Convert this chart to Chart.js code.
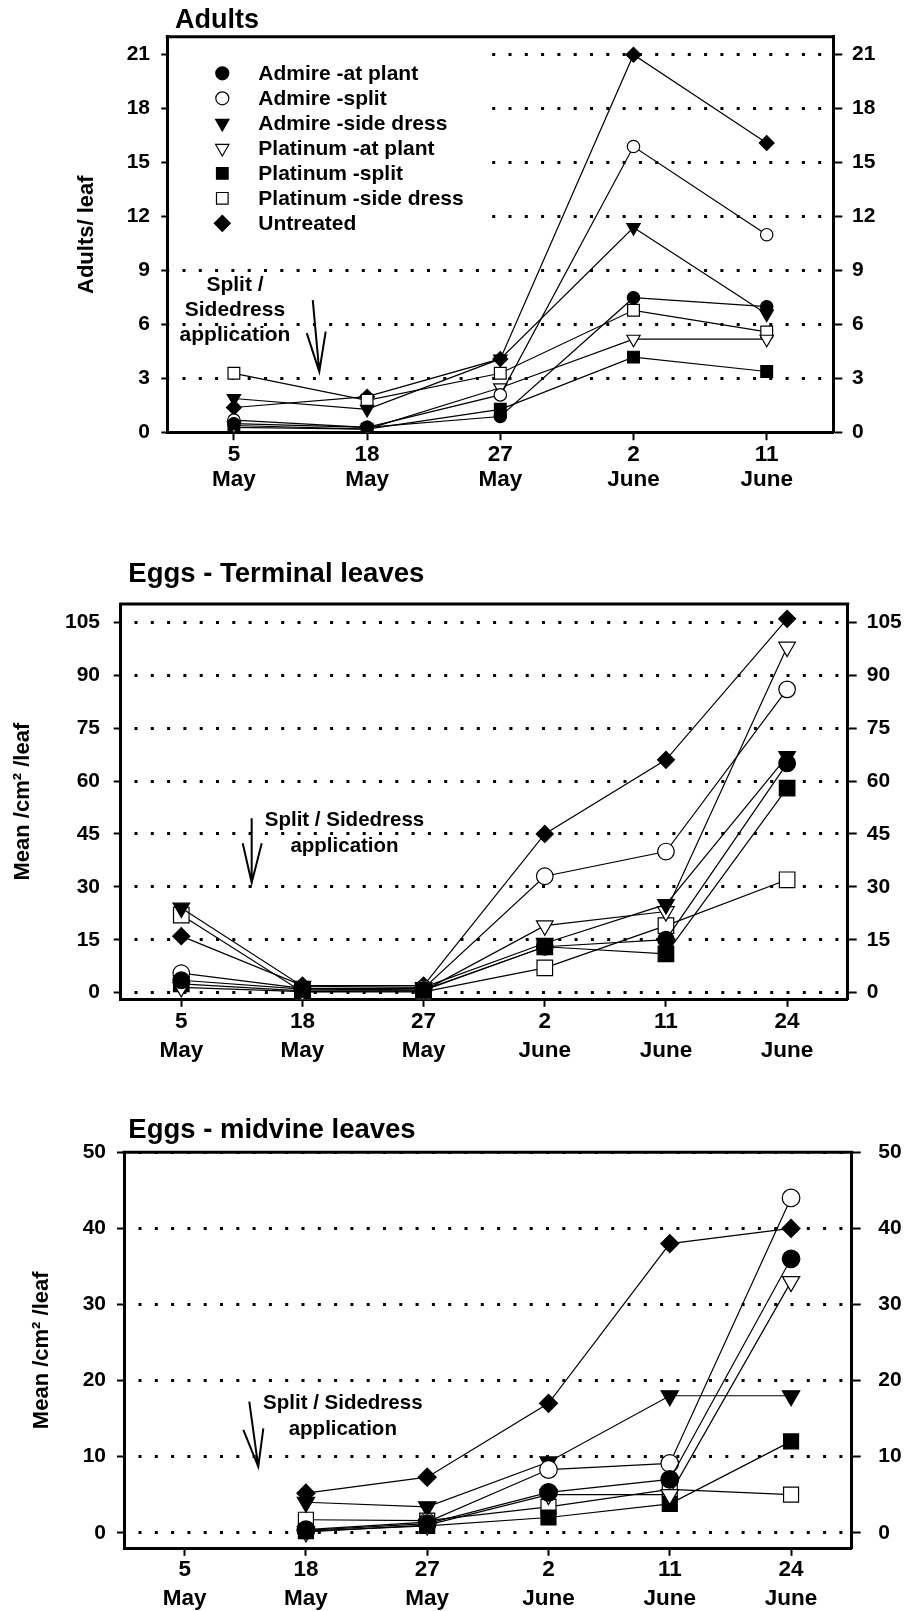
<!DOCTYPE html>
<html>
<head>
<meta charset="utf-8">
<script src="https://cdn.jsdelivr.net/npm/chart.js@4.4.1/dist/chart.umd.min.js"></script>
<style>
    html, body { margin: 0; padding: 0; background: #fff; }
    .page { position: relative; width: 910px; height: 1611px; }
    canvas { position: absolute; left: 0; }
</style>
</head>
<body>
<div class="page">
    <canvas id="adultsChart" width="910" height="500" style="top:0px"></canvas>
    <canvas id="terminalChart" width="910" height="530" style="top:540px"></canvas>
    <canvas id="midvineChart" width="910" height="521" style="top:1090px"></canvas>
</div>
<script>
// ─── Data ───
const seriesNames = [
    'Admire -at plant', 'Admire -split', 'Admire -side dress',
    'Platinum -at plant', 'Platinum -split', 'Platinum -side dress', 'Untreated'
];

const adultDates = [['5', 'May'], ['18', 'May'], ['27', 'May'], ['2', 'June'], ['11', 'June']];
const eggDates = [['5', 'May'], ['18', 'May'], ['27', 'May'], ['2', 'June'], ['11', 'June'], ['24', 'June']];

const adultTicks = [0, 3, 6, 9, 12, 15, 18, 21];
const terminalTicks = [0, 15, 30, 45, 60, 75, 90, 105];
const midvineTicks = [0, 10, 20, 30, 40, 50];

// Adults / leaf
const adultsAdmireAtPlant = [0.5, 0.3, 0.9, 7.5, 7.0];
const adultsAdmireSplit = [0.7, 0.3, 2.1, 15.9, 11.0];
const adultsAdmireSideDress = [1.9, 1.3, 4.1, 11.4, 6.6];
const adultsPlatinumAtPlant = [0.4, 0.2, 2.5, 5.2, 5.2];
const adultsPlatinumSplit = [0.3, 0.2, 1.3, 4.2, 3.4];
const adultsPlatinumSideDress = [3.3, 1.8, 3.3, 6.8, 5.6];
const adultsUntreated = [1.4, 2.0, 4.1, 21.0, 16.1];

// Eggs - terminal leaves
const termAdmireAtPlant = [3.5, 1.0, 0.8, 13, 15, 65];
const termAdmireSplit = [5.5, 1.2, 1.2, 33, 40, 86];
const termAdmireSideDress = [24, 1.8, 1.5, 14, 25, 67];
const termPlatinumAtPlant = [1.5, 0.3, 0.5, 19, 23, 98];
const termPlatinumSplit = [2.5, 0.5, 0.6, 13, 11, 58];
const termPlatinumSideDress = [22, 0.2, 0.2, 7, 19, 32];
const termUntreated = [16, 2.0, 2.0, 45, 66, 106];

// Eggs - midvine leaves
const midAdmireAtPlant = [null, 0.3, 1.2, 5.3, 7.0, 36];
const midAdmireSplit = [null, 0.4, 1.4, 8.3, 9.1, 44];
const midAdmireSideDress = [null, 4.0, 3.4, 9.3, 18, 18];
const midPlatinumAtPlant = [null, 0.1, 1.0, 5.0, 5.0, 33];
const midPlatinumSplit = [null, 0.2, 0.9, 2.0, 3.8, 12];
const midPlatinumSideDress = [null, 1.7, 1.6, 3.4, 5.7, 5.0];
const midUntreated = [null, 5.2, 7.3, 17, 38, 40];

// ─── Styles ───
const FONT = "'Liberation Sans', Arial, Helvetica, sans-serif";
const markers = [
    { style: 'circle', rotation: 0, fill: '#000' },
    { style: 'circle', rotation: 0, fill: '#fff' },
    { style: 'triangle', rotation: 180, fill: '#000' },
    { style: 'triangle', rotation: 180, fill: '#fff' },
    { style: 'rect', rotation: 0, fill: '#000' },
    { style: 'rect', rotation: 0, fill: '#fff' },
    { style: 'rectRot', rotation: 0, fill: '#000' }
];

function drawMarker(ctx, m, r, x, y) {
    ctx.beginPath();
    if (m.style === 'circle') {
        ctx.arc(x, y, r, 0, Math.PI * 2);
    } else if (m.style === 'triangle') {
        const s = m.rotation ? -1 : 1;
        ctx.moveTo(x, y - s * r);
        ctx.lineTo(x + r * Math.sqrt(3) / 2, y + s * r / 2);
        ctx.lineTo(x - r * Math.sqrt(3) / 2, y + s * r / 2);
        ctx.closePath();
    } else if (m.style === 'rect') {
        const h = r * Math.SQRT1_2;
        ctx.rect(x - h, y - h, 2 * h, 2 * h);
    } else {
        ctx.moveTo(x - r, y);
        ctx.lineTo(x, y - r);
        ctx.lineTo(x + r, y);
        ctx.lineTo(x, y + r);
        ctx.closePath();
    }
    ctx.fillStyle = m.fill;
    ctx.fill();
    ctx.lineWidth = 1.2;
    ctx.strokeStyle = '#000';
    ctx.stroke();
}

// ─── Frame, titles, notes, legend ───
const notesPlugin = {
    id: 'notes',
    beforeDatasetsDraw(chart, args, opts) {
        const L = opts.legend;
        if (!L) return;
        const { ctx, chartArea: a } = chart;
        ctx.save();
        ctx.fillStyle = '#fff';
        ctx.fillRect(a.left + 2, a.top + 2, L.boxW, L.boxH);
        chart.data.datasets.forEach((ds, i) => {
            const y = a.top + L.top + i * L.step;
            drawMarker(ctx, markers[i], L.radii[i], a.left + L.markerX, y);
            ctx.fillStyle = '#000';
            ctx.font = `bold ${L.size}px ${FONT}`;
            ctx.textAlign = 'left';
            ctx.textBaseline = 'middle';
            ctx.fillText(ds.label, a.left + L.textX, y + 0.5);
        });
        ctx.restore();
    },
    afterDraw(chart, args, opts) {
        const { ctx, chartArea: a, scales } = chart;
        const px = v => scales.x.getPixelForValue(v);
        const py = v => scales.y.getPixelForValue(v);
        ctx.save();
        ctx.strokeStyle = '#000';
        ctx.lineWidth = 3;
        ctx.beginPath();
        ctx.moveTo(a.left - 1.5, a.top);
        ctx.lineTo(a.right + 1.5, a.top);
        ctx.stroke();

        ctx.fillStyle = '#000';
        ctx.font = `bold ${opts.titleSize}px ${FONT}`;
        ctx.textAlign = 'left';
        ctx.textBaseline = 'alphabetic';
        ctx.fillText(opts.title, a.left + opts.titleDx, a.top + opts.titleDy);

        const n = opts.note;
        ctx.font = `bold ${n.size}px ${FONT}`;
        ctx.textAlign = 'center';
        ctx.textBaseline = 'middle';
        n.lines.forEach((t, i) => ctx.fillText(t, px(n.x), py(n.y[i])));

        const w = opts.arrow;
        ctx.lineWidth = 2;
        ctx.beginPath();
        ctx.moveTo(px(w.from[0]), py(w.from[1]));
        ctx.lineTo(px(w.tip[0]), py(w.tip[1]));
        ctx.moveTo(px(w.left[0]), py(w.left[1]));
        ctx.lineTo(px(w.tip[0]), py(w.tip[1]));
        ctx.lineTo(px(w.right[0]), py(w.right[1]));
        ctx.stroke();
        ctx.restore();
    }
};

function buildChart(id, spec) {
    const ctx = document.getElementById(id).getContext('2d');
    const tickFont = { family: FONT, size: 21, weight: 'bold' };
    const setTicks = s => { s.ticks = spec.ticks.map(v => ({ value: v })); };
    return new Chart(ctx, {
        type: 'line',
        data: {
            labels: spec.labels,
            datasets: spec.series.map((values, i) => ({
                label: seriesNames[i],
                data: values,
                borderColor: '#000',
                borderWidth: 1.2,
                pointStyle: markers[i].style,
                pointRotation: markers[i].rotation,
                pointRadius: spec.radii[i],
                pointBackgroundColor: markers[i].fill,
                pointBorderColor: '#000',
                pointBorderWidth: 1.2,
                fill: false,
                tension: 0
            }))
        },
        plugins: [notesPlugin],
        options: {
            responsive: false,
            animation: false,
            devicePixelRatio: 1,
            events: [],
            layout: { padding: { top: spec.area.top, left: 0, right: 0, bottom: 0 } },
            scales: {
                x: {
                    type: 'category',
                    offset: true,
                    afterFit: s => { s.height = spec.canvasH - spec.area.bottom; },
                    grid: { drawOnChartArea: false, tickLength: 7.5, tickWidth: 2, tickColor: '#000', color: '#000' },
                    border: { color: '#000', width: 3 },
                    ticks: {
                        color: '#000', autoSkip: false, maxRotation: 0, minRotation: 0,
                        padding: spec.xPad,
                        font: { family: FONT, size: 22.5, weight: 'bold', lineHeight: spec.xLineH }
                    }
                },
                y: {
                    position: 'left',
                    min: spec.min,
                    max: spec.max,
                    afterBuildTicks: setTicks,
                    afterFit: s => { s.width = spec.area.left; },
                    grid: { color: '#000', lineWidth: 3, tickLength: spec.leftTick, tickWidth: 2, tickColor: '#000' },
                    border: { color: '#000', width: 3, dash: [3, 13.3], dashOffset: spec.dotOffset },
                    ticks: { color: '#000', padding: spec.leftPad, font: tickFont },
                    title: {
                        display: true, text: spec.yTitle, color: '#000',
                        font: { family: FONT, size: 22, weight: 'bold' },
                        padding: { top: spec.yTitlePad, bottom: 0 }
                    }
                },
                y2: {
                    position: 'right',
                    min: spec.min,
                    max: spec.max,
                    afterBuildTicks: setTicks,
                    afterFit: s => { s.width = 910 - spec.area.right; },
                    grid: { drawOnChartArea: false, tickLength: 9, tickWidth: 2, tickColor: '#000', color: '#000' },
                    border: { color: '#000', width: 3 },
                    ticks: { color: '#000', padding: spec.rightPad, font: tickFont }
                }
            },
            plugins: {
                legend: { display: false },
                tooltip: { enabled: false },
                notes: spec.notes
            }
        }
    });
}

// ─── Adults ───
buildChart('adultsChart', {
    labels: adultDates,
    series: [adultsAdmireAtPlant, adultsAdmireSplit, adultsAdmireSideDress,
        adultsPlatinumAtPlant, adultsPlatinumSplit, adultsPlatinumSideDress, adultsUntreated],
    ticks: adultTicks,
    min: 0, max: 22,
    canvasH: 500,
    area: { left: 167.3, right: 833.3, top: 36.7, bottom: 432.7 },
    radii: [6.2, 6.2, 7.7, 7.7, 8.3, 8.3, 7.4],
    leftTick: 6, leftPad: 11.3, rightPad: 9.7,
    xPad: 2.7, xLineH: 1.1,
    yTitle: 'Adults/ leaf', yTitlePad: 73.5,
    dotOffset: 2.8,
    notes: {
        title: 'Adults', titleSize: 27, titleDx: 7.7, titleDy: -8.7,
        note: { size: 21, x: 0.008, y: [8.21, 6.82, 5.43], lines: ['Split /', 'Sidedress', 'application'] },
        arrow: { from: [0.592, 7.37], tip: [0.641, 3.39], left: [0.547, 5.53], right: [0.689, 5.62] },
        legend: { markerX: 55, textX: 91, top: 36.6, step: 25, size: 21, boxW: 316, boxH: 193,
            radii: [6.5, 6.5, 7.7, 7.7, 8.2, 8.2, 8] }
    }
});

// ─── Eggs - Terminal leaves ───
buildChart('terminalChart', {
    labels: eggDates,
    series: [termAdmireAtPlant, termAdmireSplit, termAdmireSideDress,
        termPlatinumAtPlant, termPlatinumSplit, termPlatinumSideDress, termUntreated],
    ticks: terminalTicks,
    min: -1.9, max: 110.2,
    canvasH: 530,
    area: { left: 120.7, right: 847.7, top: 64, bottom: 459.3 },
    radii: [8.3, 8.3, 9.6, 9.6, 11, 11, 8.5],
    leftTick: 7, leftPad: 13.7, rightPad: 10,
    xPad: 0.8, xLineH: 1.28,
    yTitle: 'Mean /cm² /leaf', yTitlePad: 10.1,
    dotOffset: 3.8,
    notes: {
        title: 'Eggs - Terminal leaves', titleSize: 27.5, titleDx: 7.6, titleDy: -22.3,
        note: { size: 20.5, x: 1.347, y: [48.96, 41.59], lines: ['Split / Sidedress', 'application'] },
        arrow: { from: [0.581, 49.44], tip: [0.581, 31.18], left: [0.507, 42.35], right: [0.664, 42.35] }
    }
});

// ─── Eggs - midvine leaves ───
buildChart('midvineChart', {
    labels: eggDates,
    series: [midAdmireAtPlant, midAdmireSplit, midAdmireSideDress,
        midPlatinumAtPlant, midPlatinumSplit, midPlatinumSideDress, midUntreated],
    ticks: midvineTicks,
    min: -2.05, max: 50,
    canvasH: 521,
    area: { left: 124, right: 851.7, top: 62.3, bottom: 458.3 },
    radii: [8.8, 8.8, 10, 10, 10.6, 10.6, 9],
    leftTick: 7, leftPad: 11, rightPad: 17.6,
    xPad: 0.2, xLineH: 1.27,
    yTitle: 'Mean /cm² /leaf', yTitlePad: 28.5,
    dotOffset: 3.8,
    notes: {
        title: 'Eggs - midvine leaves', titleSize: 27.5, titleDx: 4.3, titleDy: -14,
        note: { size: 20.5, x: 1.304, y: [17.01, 13.59], lines: ['Split / Sidedress', 'application'] },
        arrow: { from: [0.533, 17.22], tip: [0.607, 8.68], left: [0.484, 13.5], right: [0.649, 13.72] }
    }
});
</script>
</body>
</html>
